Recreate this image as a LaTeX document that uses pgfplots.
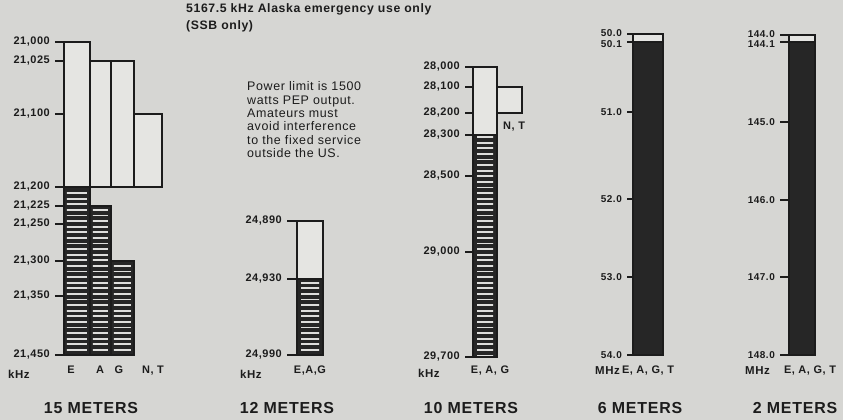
\documentclass[border=0pt]{standalone}
\usepackage{pgfplots}
\pgfplotsset{compat=1.18}
\usepackage{fontspec}
\setmainfont{Liberation Sans}
\newfontfamily\lsf{Liberation Sans}[LetterSpace=5]
\usetikzlibrary{patterns}
\definecolor{bg}{RGB}{214,214,211}
\definecolor{lite}{RGB}{229,229,226}
\definecolor{ink}{RGB}{28,28,28}
\definecolor{dark}{RGB}{38,38,38}
\definecolor{hatch}{RGB}{222,222,220}

\pgfdeclarepatternformonly{hlines}{\pgfqpoint{-1bp}{0bp}}{\pgfqpoint{11bp}{5.6bp}}{\pgfqpoint{10bp}{5.6bp}}{%
  \pgfpathrectangle{\pgfqpoint{-1bp}{2bp}}{\pgfqpoint{12bp}{1.7bp}}\pgfusepath{fill}}

\makeatletter
\let\pwlx\relax
% piecewise-linear map: frequency -> position (px from top of page), through the printed ticks
\newcommand\makepwl[2]{%
  \gdef\pwl@acc{}\gdef\pwl@first{1}%
  \foreach \ff/\pp in {#2}{%
    \ifnum\pwl@first=1
      \xdef\pwl@acc{\pp}\gdef\pwl@first{0}%
    \else
      \xdef\pwl@acc{\pwl@acc+(\pp-\pwl@pp)/(\ff-\pwl@ff)*(min(max(\noexpand\pwlx,\pwl@ff),\ff)-\pwl@ff)}%
    \fi
    \xdef\pwl@ff{\ff}\xdef\pwl@pp{\pp}%
  }%
  \expandafter\global\expandafter\let\csname #1\endcsname\pwl@acc}
\newcommand\pwltrafo[2]{%
  \begingroup
    \edef\pwlx{#1}%
    \pgflibraryfpuifactive{}{\pgfkeys{/pgf/fpu=true}}%
    \pgfkeys{/pgf/fpu/output format=fixed}%
    \pgfmathparse{#2}%
    \xdef\pwl@res{\pgfmathresult}%
  \endgroup
  \let\pgfmathresult\pwl@res}
\makeatother

\makepwl{pwlA}{21000/42,21025/61,21100/114,21200/187,21225/206,21250/224,21300/261,21350/296,21450/355}
\makepwl{pwlB}{24890/221,24930/279,24990/355}
\makepwl{pwlC}{28000/67,28100/87,28200/113,28300/135,28500/176,29000/252,29700/357}
\makepwl{pwlD}{50.0/34,50.1/42,51.0/112,52.0/199,53.0/277,54.0/355}
\makepwl{pwlE}{144.0/35,144.1/42,145.0/122,146.0/200,147.0/277,148.0/355}

\newcommand\tickfont{\lsf\bfseries\fontsize{11}{12}\selectfont}
\newcommand\smtickfont{\lsf\bfseries\fontsize{10}{12}\selectfont}
\newcommand\labfont{\lsf\bfseries\fontsize{11}{12}\selectfont}
\newcommand\unitfont{\lsf\bfseries\fontsize{11.5}{12}\selectfont}
\newcommand\titlefont{\lsf\bfseries\fontsize{16}{19}\selectfont}
\newcommand\notefont{\lsf\fontsize{12.5}{14}\selectfont}
% labels of two close ticks: zero-height box, baseline moved so the digits sit just above / below the tick
\newcommand\uplab[1]{\raisebox{-2.1bp}[0pt][0pt]{#1}}
\newcommand\dnlab[1]{\raisebox{-5.1bp}[0pt][0pt]{#1}}
\newcommand\midlab[1]{\raisebox{-3.6bp}[0pt][0pt]{#1}}

\pgfplotsset{
  band/.style={
    scale only axis, enlargelimits=false, clip=false,
    axis lines*=left, axis line style={draw=none},
    xtick=\empty, y dir=reverse, xmin=0,
    ytick pos=left, tick align=outside, major tick length=9bp,
    ytick style={line width=2bp, ink},
    yticklabel style={font=\tickfont, text=ink, inner sep=1bp, xshift=-4bp},
  },
  wbox/.style={fill=lite, draw=ink, line width=2.4bp},
  dbox/.style={fill=dark, draw=ink, line width=1.5bp},
  hbox/.style={pattern=hlines, pattern color=hatch, draw=none},
}
\tikzset{txt/.style={text=ink, inner sep=0pt}}

\begin{document}
\begin{tikzpicture}
\useasboundingbox (0,0) rectangle (843bp,420bp);
\fill[bg] (0,0) rectangle (843bp,420bp);

% ---------------- 15 METERS ----------------
\begin{axis}[band, at={(64bp,65bp)}, anchor=south west,
  width=98bp, height=313bp, xmax=98,
  y coord trafo/.code={\pwltrafo{#1}{\pwlA}},
  ymin=21000, ymax=21450,
  ytick={21000,21025,21100,21200,21225,21250,21300,21350,21450},
  yticklabels={{21,000},{21,025},{21,100},{21,200},{21,225},{21,250},{21,300},{21,350},{21,450}}]
\addplot[wbox] coordinates {(0,21000) (26,21000) (26,21200) (0,21200)} -- cycle;
\addplot[wbox] coordinates {(26,21025) (47,21025) (47,21200) (26,21200)} -- cycle;
\addplot[wbox] coordinates {(47,21025) (70,21025) (70,21200) (47,21200)} -- cycle;
\addplot[wbox] coordinates {(70,21100) (98,21100) (98,21200) (70,21200)} -- cycle;
\addplot[dbox] coordinates {(0,21200) (26,21200) (26,21450) (0,21450)} -- cycle;
\addplot[dbox] coordinates {(26,21225) (47,21225) (47,21450) (26,21450)} -- cycle;
\addplot[dbox] coordinates {(47,21300) (70,21300) (70,21450) (47,21450)} -- cycle;
\addplot[hbox] coordinates {(3,21202) (23,21202) (23,21448) (3,21448)} -- cycle;
\addplot[hbox] coordinates {(29,21227) (44,21227) (44,21448) (29,21448)} -- cycle;
\addplot[hbox] coordinates {(50,21302) (67,21302) (67,21448) (50,21448)} -- cycle;
\end{axis}
\node[txt, font=\unitfont, anchor=base west] at (8bp,41bp) {kHz};
\node[txt, font=\labfont, anchor=base] at (71bp,46bp) {E};
\node[txt, font=\labfont, anchor=base] at (100bp,46bp) {A};
\node[txt, font=\labfont, anchor=base] at (119bp,46bp) {G};
\node[txt, font=\labfont, anchor=base] at (153bp,46bp) {N, T};
\node[txt, font=\titlefont, anchor=base] at (91bp,6.5bp) {15 METERS};

% ---------------- notes ----------------
\node[txt, font={\lsf\bfseries\fontsize{12.3}{14}\selectfont}, anchor=base west] at (186bp,407bp) {5167.5 kHz Alaska emergency use only};
\node[txt, font={\lsf\bfseries\fontsize{12.3}{14}\selectfont}, anchor=base west] at (186bp,390bp) {(SSB only)};
\node[txt, font=\notefont, anchor=base west] at (247bp,329bp) {Power limit is 1500};
\node[txt, font=\notefont, anchor=base west] at (247bp,315.7bp) {watts PEP output.};
\node[txt, font=\notefont, anchor=base west] at (247bp,302.4bp) {Amateurs must};
\node[txt, font=\notefont, anchor=base west] at (247bp,289.1bp) {avoid interference};
\node[txt, font=\notefont, anchor=base west] at (247bp,275.8bp) {to the fixed service};
\node[txt, font=\notefont, anchor=base west] at (247bp,262.5bp) {outside the US.};

% ---------------- 12 METERS ----------------
\begin{axis}[band, at={(297bp,65bp)}, anchor=south west,
  width=26bp, height=134bp, xmax=26, major tick length=10bp,
  y coord trafo/.code={\pwltrafo{#1}{\pwlB}},
  ymin=24890, ymax=24990,
  ytick={24890,24930,24990},
  yticklabels={{24,890},{24,930},{24,990}}]
\addplot[wbox] coordinates {(0,24890) (26,24890) (26,24930) (0,24930)} -- cycle;
\addplot[dbox] coordinates {(0,24930) (26,24930) (26,24990) (0,24990)} -- cycle;
\addplot[hbox] coordinates {(4,24931) (22,24931) (22,24989) (4,24989)} -- cycle;
\end{axis}
\node[txt, font=\unitfont, anchor=base west] at (240bp,41bp) {kHz};
\node[txt, font=\labfont, anchor=base] at (310bp,46bp) {E,A,G};
\node[txt, font=\titlefont, anchor=base] at (287bp,6.5bp) {12 METERS};

% ---------------- 10 METERS ----------------
\begin{axis}[band, at={(473bp,63bp)}, anchor=south west,
  width=49bp, height=290bp, xmax=49, major tick length=8bp,
  y coord trafo/.code={\pwltrafo{#1}{\pwlC}},
  ymin=28000, ymax=29700,
  ytick={28000,28100,28200,28300,28500,29000,29700},
  yticklabels={{28,000},{28,100},{28,200},{28,300},{28,500},{29,000},{29,700}}]
\addplot[wbox] coordinates {(0,28000) (24,28000) (24,28300) (0,28300)} -- cycle;
\addplot[wbox] coordinates {(24,28100) (49,28100) (49,28200) (24,28200)} -- cycle;
\addplot[dbox] coordinates {(0,28300) (24,28300) (24,29700) (0,29700)} -- cycle;
\addplot[hbox] coordinates {(4,28305) (20,28305) (20,29695) (4,29695)} -- cycle;
\end{axis}
\node[txt, font=\labfont, anchor=base west] at (503bp,290bp) {N, T};
\node[txt, font=\unitfont, anchor=base west] at (418bp,42bp) {kHz};
\node[txt, font=\labfont, anchor=base] at (490bp,46bp) {E, A, G};
\node[txt, font=\titlefont, anchor=base] at (471bp,6.5bp) {10 METERS};

% ---------------- 6 METERS ----------------
\begin{axis}[band, at={(633bp,65bp)}, anchor=south west,
  width=30bp, height=321bp, xmax=30, major tick length=6bp,
  yticklabel style={font=\smtickfont},
  y coord trafo/.code={\pwltrafo{#1}{\pwlD}},
  ymin=50.0, ymax=54.0,
  ytick={50.0,50.1,51.0,52.0,53.0,54.0},
  yticklabels={\uplab{50.0},\dnlab{50.1},\midlab{51.0},\midlab{52.0},\midlab{53.0},\midlab{54.0}}]
\addplot[dbox] coordinates {(0,50.1) (30,50.1) (30,54.0) (0,54.0)} -- cycle;
\addplot[wbox] coordinates {(0,50.0) (30,50.0) (30,50.1) (0,50.1)} -- cycle;
\end{axis}
\node[txt, font=\unitfont, anchor=base west] at (595bp,45bp) {MHz};
\node[txt, font=\labfont, anchor=base] at (648bp,46bp) {E, A, G, T};
\node[txt, font=\titlefont, anchor=base] at (640bp,6.5bp) {6 METERS};

% ---------------- 2 METERS ----------------
\begin{axis}[band, at={(789bp,65bp)}, anchor=south west,
  width=26bp, height=320bp, xmax=26, major tick length=9bp,
  yticklabel style={font=\smtickfont},
  y coord trafo/.code={\pwltrafo{#1}{\pwlE}},
  ymin=144.0, ymax=148.0,
  ytick={144.0,144.1,145.0,146.0,147.0,148.0},
  yticklabels={\uplab{144.0},\dnlab{144.1},\midlab{145.0},\midlab{146.0},\midlab{147.0},\midlab{148.0}}]
\addplot[dbox] coordinates {(0,144.1) (26,144.1) (26,148.0) (0,148.0)} -- cycle;
\addplot[wbox] coordinates {(0,144.0) (26,144.0) (26,144.1) (0,144.1)} -- cycle;
\end{axis}
\node[txt, font=\unitfont, anchor=base west] at (745bp,45bp) {MHz};
\node[txt, font=\labfont, anchor=base] at (810bp,46bp) {E, A, G, T};
\node[txt, font=\titlefont, anchor=base] at (795bp,6.5bp) {2 METERS};
\end{tikzpicture}
\end{document}
